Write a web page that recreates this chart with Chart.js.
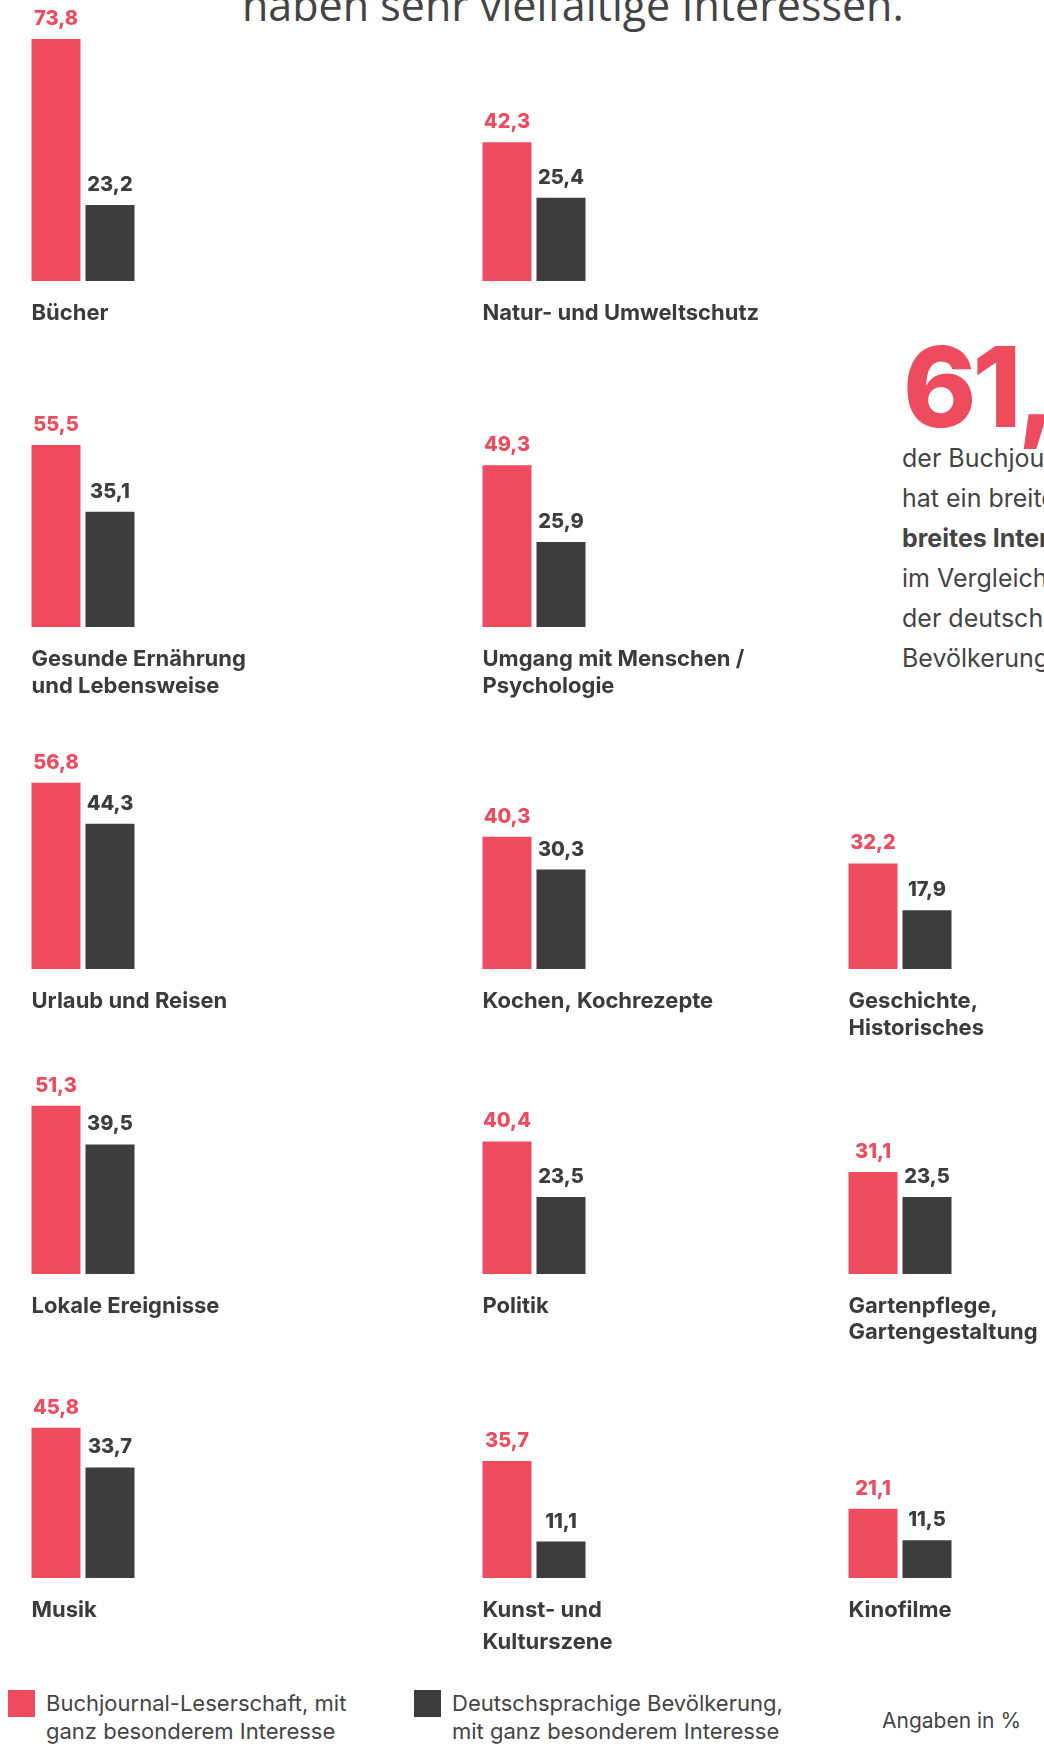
<!DOCTYPE html>
<html lang="de">
<head>
<meta charset="utf-8">
<title>Interessen der Buchjournal-Leserschaft</title>
<script src="https://cdn.jsdelivr.net/npm/chart.js@4.4.1/dist/chart.umd.min.js"></script>
<style>
  html, body { margin: 0; padding: 0; background: #fff; }
  body { position: relative; width: 1044px; height: 1744px; overflow: hidden; font-family: Inter, "Noto Sans", sans-serif; color: #444; }
  canvas { position: absolute; }
  .abs { position: absolute; white-space: nowrap; }
  .title { left: 242px; top: -17px; font: 400 43px/43px "Open Sans", sans-serif; color: #444; }
  .big { left: 903px; top: 331px; font: 800 111px/111px Inter, sans-serif; color: #ef4b5f; letter-spacing: -4px; }
  .note { left: 902px; top: 438px; font: 400 25px/40px Inter, sans-serif; color: #444; }
  .note b { font-weight: 700; }
  .sw { position: absolute; width: 27px; height: 27px; top: 1690px; }
  .leg { top: 1689px; font: 400 22px/28px Inter, sans-serif; color: #444; }
  .unit { left: 882px; top: 1707px; font: 400 21px/28px Inter, sans-serif; color: #444; }
</style>
</head>
<body>

<div class="abs title">haben sehr vielfältige Interessen.</div>

<div class="abs big">61,</div>
<div class="abs note">der Buchjournal-Leserschaft<br>hat ein breites bis sehr<br><b>breites Interesse</b><br>im Vergleich zur Gesamtheit<br>der deutschsprachigen<br>Bevölkerung</div>

<div class="sw" id="sw1" style="left:8px"></div>
<div class="abs leg" style="left:46px">Buchjournal-Leserschaft, mit<br>ganz besonderem Interesse</div>
<div class="sw" id="sw2" style="left:414px"></div>
<div class="abs leg" style="left:452px">Deutschsprachige Bevölkerung,<br>mit ganz besonderem Interesse</div>
<div class="abs unit">Angaben in %</div>

<script>
// Daten
const categories = [
  ['Bücher'],
  ['Natur- und Umweltschutz'],
  ['Gesunde Ernährung', 'und Lebensweise'],
  ['Umgang mit Menschen /', 'Psychologie'],
  ['Urlaub und Reisen'],
  ['Kochen, Kochrezepte'],
  ['Geschichte,', 'Historisches'],
  ['Lokale Ereignisse'],
  ['Politik'],
  ['Gartenpflege,', 'Gartengestaltung'],
  ['Musik'],
  ['Kunst- und', 'Kulturszene'],
  ['Kinofilme']
];
const readers = [73.8, 42.3, 55.5, 49.3, 56.8, 40.3, 32.2, 51.3, 40.4, 31.1, 45.8, 35.7, 21.1];
const population = [23.2, 25.4, 35.1, 25.9, 44.3, 30.3, 17.9, 39.5, 23.5, 23.5, 33.7, 11.1, 11.5];
const seriesNames = ['Buchjournal-Leserschaft, mit ganz besonderem Interesse', 'Deutschsprachige Bevölkerung, mit ganz besonderem Interesse'];

// Layout
const RED = '#ef4b5f';
const DARK = '#3d3d3d';
const TEXT = '#3b3b3b';
const PX_PER_UNIT = 3.28;
const AREA_H = 262;
const PAD_TOP = 30;
const PAD_BOTTOM = 90;
const PAIR_W = 108;      // two slots of 54px, bars 49px wide
const colLeft = [32, 483, 849];
const rowBase = [281, 627, 969, 1274, 1578];
const slots = [[0, 0], [0, 1], [1, 0], [1, 1], [2, 0], [2, 1], [2, 2], [3, 0], [3, 1], [3, 2], [4, 0], [4, 1], [4, 2]];
const lineGaps = [27, 27, 27, 27, 27, 27, 27, 27, 27, 26, 27, 32, 27];

document.getElementById('sw1').style.background = RED;
document.getElementById('sw2').style.background = DARK;

const barText = {
  id: 'barText',
  afterDatasetsDraw(chart, args, opts) {
    const ctx = chart.ctx;
    ctx.save();
    ctx.textBaseline = 'alphabetic';
    ctx.textAlign = 'center';
    ctx.font = '800 20px Inter';
    chart.data.datasets.forEach((ds, i) => {
      chart.getDatasetMeta(i).data.forEach((bar, j) => {
        ctx.fillStyle = ds.backgroundColor;
        ctx.fillText(ds.data[j].toFixed(1).replace('.', ','), bar.x, bar.y - 14);
      });
    });
    const first = chart.getDatasetMeta(0).data[0];
    const left = first.x - first.width / 2;
    ctx.textAlign = 'left';
    ctx.font = '700 22px Inter';
    ctx.fillStyle = TEXT;
    opts.lines.forEach((line, k) => {
      ctx.fillText(line, left, chart.chartArea.bottom + 39 + k * opts.lineGap);
    });
    ctx.restore();
  }
};

function makeChart(i) {
  const [row, col] = slots[i];
  const canvas = document.createElement('canvas');
  const x0 = colLeft[col] - 3;   // chart area left, bar sits 2.5px inside its slot
  const w = Math.min(380, 1044 - x0);
  const h = PAD_TOP + AREA_H + PAD_BOTTOM;
  canvas.width = w;
  canvas.height = h;
  canvas.style.left = x0 + 'px';
  canvas.style.top = (rowBase[row] - AREA_H - PAD_TOP) + 'px';
  canvas.style.width = w + 'px';
  canvas.style.height = h + 'px';
  document.body.appendChild(canvas);

  new Chart(canvas, {
    type: 'bar',
    data: {
      labels: [categories[i].join(' ')],
      datasets: [{
        label: seriesNames[0],
        data: [readers[i]],
        backgroundColor: RED
      }, {
        label: seriesNames[1],
        data: [population[i]],
        backgroundColor: DARK
      }]
    },
    options: {
      responsive: false,
      animation: false,
      devicePixelRatio: 1,
      datasets: {
        bar: { categoryPercentage: 1, barPercentage: 49 / 54, borderWidth: 0 }
      },
      layout: {
        padding: { left: 0, right: w - PAIR_W, top: PAD_TOP, bottom: PAD_BOTTOM }
      },
      plugins: {
        legend: { display: false },
        tooltip: { enabled: false },
        barText: { lines: categories[i], lineGap: lineGaps[i] }
      },
      scales: {
        x: { display: false, offset: true },
        y: { display: false, min: 0, max: AREA_H / PX_PER_UNIT }
      }
    },
    plugins: [barText]
  });
}

document.fonts.ready.then(() => {
  categories.forEach((c, i) => makeChart(i));
});
</script>
</body>
</html>
